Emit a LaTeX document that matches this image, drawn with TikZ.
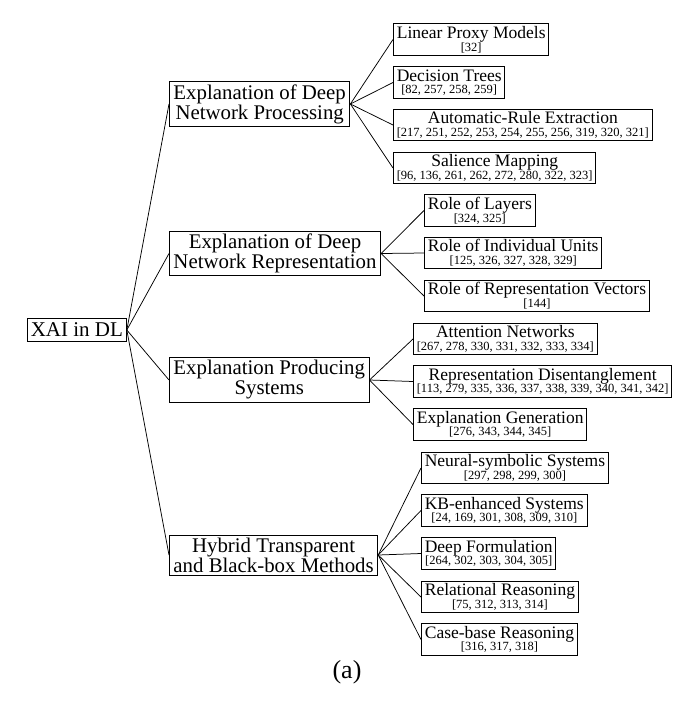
\documentclass[tikz,border=0pt]{standalone}
\usepackage{fontspec}
\setmainfont{Liberation Serif}
\usepackage{tikz}

% small font for the reference lists
\newcommand{\refs}[1]{{\fontsize{7.5}{7.5}\selectfont #1}}

\tikzset{
  rootbox/.style={draw, line width=0.6pt, inner xsep=2pt, inner ysep=2.5pt, anchor=west, font=\fontsize{12.6}{12}\selectfont},
  catbox/.style={draw, line width=0.6pt, inner xsep=2.4pt, inner ysep=1.6pt, anchor=west, align=center, font=\fontsize{12.5}{12}\selectfont},
  leafbox/.style={draw, line width=0.6pt, inner xsep=2pt, inner ysep=1.5pt, anchor=west, align=center, font=\fontsize{10.5}{7.6}\selectfont},
  branch/.style={line width=0.45pt}
}

\begin{document}
\begin{tikzpicture}[x=0.6pt,y=-0.6pt]
\useasboundingbox (0,0) rectangle (695,704);

% Root
\node[rootbox] (root) at (27,330) {XAI in DL};

% First level
\node[catbox] (proc) at (169,104) {Explanation of Deep\\Network Processing};
\node[catbox] (repr) at (169,253.5) {Explanation of Deep\\Network Representation};
\node[catbox] (prod) at (169,380) {Explanation Producing\\Systems};
\node[catbox] (hyb) at (169,555) {Hybrid Transparent\\and Black-box Methods};

% Deep network processing
\node[leafbox] (lin) at (393,39.5) {Linear Proxy Models\\\refs{[32]}};
\node[leafbox] (tree) at (393,82.5) {Decision Trees\\\refs{[82, 257, 258, 259]}};
\node[leafbox] (rule) at (393,125) {Automatic-Rule Extraction\\\refs{[217, 251, 252, 253, 254, 255, 256, 319, 320, 321]}};
\node[leafbox] (sal) at (393,168) {Salience Mapping\\\refs{[96, 136, 261, 262, 272, 280, 322, 323]}};

% Deep network representation
\node[leafbox] (layer) at (424,210.5) {Role of Layers\\\refs{[324, 325]}};
\node[leafbox] (unit) at (424,253) {Role of Individual Units\\\refs{[125, 326, 327, 328, 329]}};
\node[leafbox] (vec) at (424,296) {Role of Representation Vectors\\\refs{[144]}};

% Explanation producing systems
\node[leafbox] (attn) at (413,339) {Attention Networks\\\refs{[267, 278, 330, 331, 332, 333, 334]}};
\node[leafbox] (dis) at (413,381.5) {Representation Disentanglement\\\refs{[113, 279, 335, 336, 337, 338, 339, 340, 341, 342]}};
\node[leafbox] (gen) at (413,424.5) {Explanation Generation\\\refs{[276, 343, 344, 345]}};

% Hybrid methods
\node[leafbox] (neur) at (421,468) {Neural-symbolic Systems\\\refs{[297, 298, 299, 300]}};
\node[leafbox] (kb) at (421,510.5) {KB-enhanced Systems\\\refs{[24, 169, 301, 308, 309, 310]}};
\node[leafbox] (form) at (421,553.5) {Deep Formulation\\\refs{[264, 302, 303, 304, 305]}};
\node[leafbox] (rel) at (421,597) {Relational Reasoning\\\refs{[75, 312, 313, 314]}};
\node[leafbox] (case) at (421,639.5) {Case-base Reasoning\\\refs{[316, 317, 318]}};

% Branches
\foreach \c in {proc,repr,prod,hyb} \draw[branch] (root.east) -- (\c.west);
\foreach \c in {lin,tree,rule,sal} \draw[branch] (proc.east) -- (\c.west);
\foreach \c in {layer,unit,vec} \draw[branch] (repr.east) -- (\c.west);
\foreach \c in {attn,dis,gen} \draw[branch] (prod.east) -- (\c.west);
\foreach \c in {neur,kb,form,rel,case} \draw[branch] (hyb.east) -- (\c.west);

% Caption
\node (cap) at (347,672) {\fontsize{15.6}{16}\selectfont (a)};

\end{tikzpicture}
\end{document}
